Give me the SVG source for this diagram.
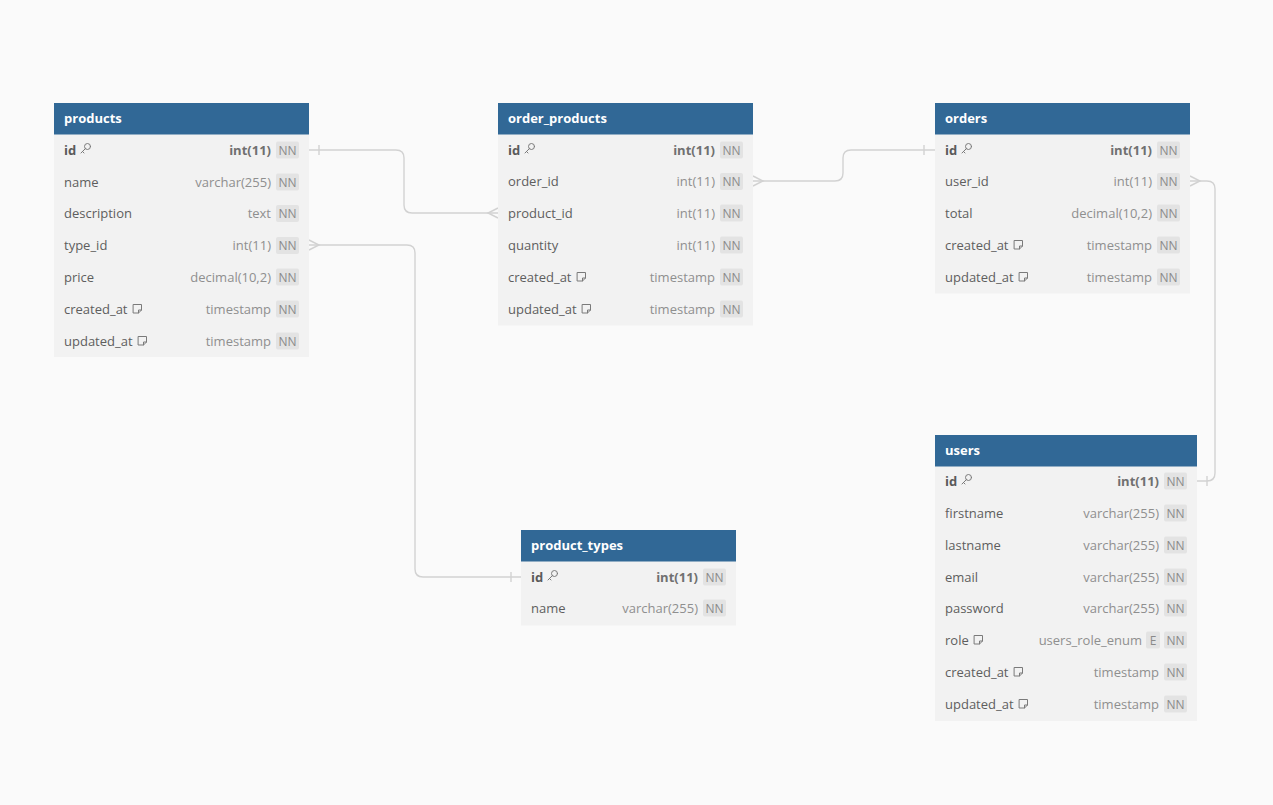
<svg xmlns="http://www.w3.org/2000/svg" width="1273" height="805" viewBox="0 0 1273 805">
<defs>
<style>
.bg{fill:#fafafa}
.hd{fill:#316896}
.bd{fill:#f2f2f2}
.ht{font-family:"Open Sans","Noto Sans",sans-serif;font-size:13px;font-weight:bold;fill:#ffffff}
.fn{font-family:"Open Sans","Noto Sans",sans-serif;font-size:13px;fill:#5e5e5e}
.pk{font-family:"Open Sans","Noto Sans",sans-serif;font-size:13px;font-weight:bold;fill:#5a5a5a}
.ty{font-family:"Open Sans","Noto Sans",sans-serif;font-size:13px;fill:#8f8f8f;text-anchor:end}
.tyb{font-family:"Open Sans","Noto Sans",sans-serif;font-size:13px;font-weight:bold;fill:#707070;text-anchor:end}
.bg2{fill:#e3e3e3}
.bt{font-family:"Open Sans","Noto Sans",sans-serif;font-size:12px;fill:#8a8a8a;text-anchor:middle}
.ic{fill:none;stroke:#7a7a7a;stroke-width:1;stroke-linejoin:round;stroke-linecap:round}
.cn{fill:none;stroke:#d2d2d2;stroke-width:1.4}
</style>
<g id="key"><circle cx="6.5" cy="-3.5" r="3" class="ic"/><path d="M4.4,-1.4 L0,3 M1.5,1.5 L3,3" class="ic"/></g>
<g id="note"><path d="M0.5,-4.5 h8 v5.5 l-3,3 h-5 z M8.5,1 h-3 v3" class="ic"/></g>
</defs>
<rect class="bg" x="0" y="0" width="1273" height="805"/>

<g id="connectors">
<path class="cn" d="M309,150 H396 Q404,150 404,158 V205 Q404,213 412,213 H498"/>
<path class="cn" d="M319,145 V155"/>
<path class="cn" d="M498,208 L488,213 L498,218"/>
<path class="cn" d="M309,245 H407 Q415,245 415,253 V569 Q415,577 423,577 H521"/>
<path class="cn" d="M309,240 L319,245 L309,250"/>
<path class="cn" d="M511,572 V582"/>
<path class="cn" d="M753,181 H835 Q843,181 843,173 V158 Q843,150 851,150 H935"/>
<path class="cn" d="M753,176 L763,181 L753,186"/>
<path class="cn" d="M924,145 V155"/>
<path class="cn" d="M1190,181 H1207 Q1215,181 1215,189 V473 Q1215,481 1207,481 H1197"/>
<path class="cn" d="M1190,176 L1200,181 L1190,186"/>
<path class="cn" d="M1207,476 V486"/>
</g>

<g id="products">
<rect class="bd" x="54" y="134" width="255" height="223"/>
<rect class="hd" x="54" y="103" width="255" height="31.5"/>
<text class="ht" x="64" y="122.5">products</text>
<text class="pk" x="64" y="154.5">id</text><use href="#key" x="81" y="150"/>
<text class="tyb" x="271" y="154.5">int(11)</text><rect class="bg2" x="276" y="141.5" width="23" height="17" rx="2"/><text class="bt" x="287.5" y="154.5">NN</text>
<text class="fn" x="64" y="186.5">name</text>
<text class="ty" x="271" y="186.5">varchar(255)</text><rect class="bg2" x="276" y="173.5" width="23" height="17" rx="2"/><text class="bt" x="287.5" y="186.5">NN</text>
<text class="fn" x="64" y="218">description</text>
<text class="ty" x="271" y="218">text</text><rect class="bg2" x="276" y="205" width="23" height="17" rx="2"/><text class="bt" x="287.5" y="218">NN</text>
<text class="fn" x="64" y="250">type_id</text>
<text class="ty" x="271" y="250">int(11)</text><rect class="bg2" x="276" y="237" width="23" height="17" rx="2"/><text class="bt" x="287.5" y="250">NN</text>
<text class="fn" x="64" y="281.5">price</text>
<text class="ty" x="271" y="281.5">decimal(10,2)</text><rect class="bg2" x="276" y="268.5" width="23" height="17" rx="2"/><text class="bt" x="287.5" y="281.5">NN</text>
<text class="fn" x="64" y="313.5">created_at</text><use href="#note" x="133" y="309"/>
<text class="ty" x="271" y="313.5">timestamp</text><rect class="bg2" x="276" y="300.5" width="23" height="17" rx="2"/><text class="bt" x="287.5" y="313.5">NN</text>
<text class="fn" x="64" y="345.5">updated_at</text><use href="#note" x="138" y="341"/>
<text class="ty" x="271" y="345.5">timestamp</text><rect class="bg2" x="276" y="332.5" width="23" height="17" rx="2"/><text class="bt" x="287.5" y="345.5">NN</text>
</g>

<g id="order_products">
<rect class="bd" x="498" y="134" width="255" height="191.5"/>
<rect class="hd" x="498" y="103" width="255" height="31.5"/>
<text class="ht" x="508" y="122.5">order_products</text>
<text class="pk" x="508" y="154.5">id</text><use href="#key" x="525" y="150"/>
<text class="tyb" x="715" y="154.5">int(11)</text><rect class="bg2" x="720" y="141.5" width="23" height="17" rx="2"/><text class="bt" x="731.5" y="154.5">NN</text>
<text class="fn" x="508" y="186">order_id</text>
<text class="ty" x="715" y="186">int(11)</text><rect class="bg2" x="720" y="173" width="23" height="17" rx="2"/><text class="bt" x="731.5" y="186">NN</text>
<text class="fn" x="508" y="217.5">product_id</text>
<text class="ty" x="715" y="217.5">int(11)</text><rect class="bg2" x="720" y="204.5" width="23" height="17" rx="2"/><text class="bt" x="731.5" y="217.5">NN</text>
<text class="fn" x="508" y="249.5">quantity</text>
<text class="ty" x="715" y="249.5">int(11)</text><rect class="bg2" x="720" y="236.5" width="23" height="17" rx="2"/><text class="bt" x="731.5" y="249.5">NN</text>
<text class="fn" x="508" y="281.5">created_at</text><use href="#note" x="577" y="277"/>
<text class="ty" x="715" y="281.5">timestamp</text><rect class="bg2" x="720" y="268.5" width="23" height="17" rx="2"/><text class="bt" x="731.5" y="281.5">NN</text>
<text class="fn" x="508" y="313.5">updated_at</text><use href="#note" x="582" y="309"/>
<text class="ty" x="715" y="313.5">timestamp</text><rect class="bg2" x="720" y="300.5" width="23" height="17" rx="2"/><text class="bt" x="731.5" y="313.5">NN</text>
</g>

<g id="orders">
<rect class="bd" x="935" y="134" width="255" height="159.5"/>
<rect class="hd" x="935" y="103" width="255" height="31.5"/>
<text class="ht" x="945" y="122.5">orders</text>
<text class="pk" x="945" y="154.5">id</text><use href="#key" x="962" y="150"/>
<text class="tyb" x="1152" y="154.5">int(11)</text><rect class="bg2" x="1157" y="141.5" width="23" height="17" rx="2"/><text class="bt" x="1168.5" y="154.5">NN</text>
<text class="fn" x="945" y="186">user_id</text>
<text class="ty" x="1152" y="186">int(11)</text><rect class="bg2" x="1157" y="173" width="23" height="17" rx="2"/><text class="bt" x="1168.5" y="186">NN</text>
<text class="fn" x="945" y="217.5">total</text>
<text class="ty" x="1152" y="217.5">decimal(10,2)</text><rect class="bg2" x="1157" y="204.5" width="23" height="17" rx="2"/><text class="bt" x="1168.5" y="217.5">NN</text>
<text class="fn" x="945" y="249.5">created_at</text><use href="#note" x="1014" y="245"/>
<text class="ty" x="1152" y="249.5">timestamp</text><rect class="bg2" x="1157" y="236.5" width="23" height="17" rx="2"/><text class="bt" x="1168.5" y="249.5">NN</text>
<text class="fn" x="945" y="281.5">updated_at</text><use href="#note" x="1019" y="277"/>
<text class="ty" x="1152" y="281.5">timestamp</text><rect class="bg2" x="1157" y="268.5" width="23" height="17" rx="2"/><text class="bt" x="1168.5" y="281.5">NN</text>
</g>

<g id="users">
<rect class="bd" x="935" y="466" width="262" height="255"/>
<rect class="hd" x="935" y="435" width="262" height="31.5"/>
<text class="ht" x="945" y="454.5">users</text>
<text class="pk" x="945" y="485.5">id</text><use href="#key" x="962" y="481"/>
<text class="tyb" x="1159" y="485.5">int(11)</text><rect class="bg2" x="1164" y="472.5" width="23" height="17" rx="2"/><text class="bt" x="1175.5" y="485.5">NN</text>
<text class="fn" x="945" y="517.5">firstname</text>
<text class="ty" x="1159" y="517.5">varchar(255)</text><rect class="bg2" x="1164" y="504.5" width="23" height="17" rx="2"/><text class="bt" x="1175.5" y="517.5">NN</text>
<text class="fn" x="945" y="549.5">lastname</text>
<text class="ty" x="1159" y="549.5">varchar(255)</text><rect class="bg2" x="1164" y="536.5" width="23" height="17" rx="2"/><text class="bt" x="1175.5" y="549.5">NN</text>
<text class="fn" x="945" y="581.5">email</text>
<text class="ty" x="1159" y="581.5">varchar(255)</text><rect class="bg2" x="1164" y="568.5" width="23" height="17" rx="2"/><text class="bt" x="1175.5" y="581.5">NN</text>
<text class="fn" x="945" y="612.5">password</text>
<text class="ty" x="1159" y="612.5">varchar(255)</text><rect class="bg2" x="1164" y="599.5" width="23" height="17" rx="2"/><text class="bt" x="1175.5" y="612.5">NN</text>
<text class="fn" x="945" y="644.5">role</text><use href="#note" x="974" y="640"/>
<text class="ty" x="1142" y="644.5">users_role_enum</text><rect class="bg2" x="1146" y="631.5" width="14" height="17" rx="2"/><text class="bt" x="1153" y="644.5">E</text><rect class="bg2" x="1164" y="631.5" width="23" height="17" rx="2"/><text class="bt" x="1175.5" y="644.5">NN</text>
<text class="fn" x="945" y="676.5">created_at</text><use href="#note" x="1014" y="672"/>
<text class="ty" x="1159" y="676.5">timestamp</text><rect class="bg2" x="1164" y="663.5" width="23" height="17" rx="2"/><text class="bt" x="1175.5" y="676.5">NN</text>
<text class="fn" x="945" y="708.5">updated_at</text><use href="#note" x="1019" y="704"/>
<text class="ty" x="1159" y="708.5">timestamp</text><rect class="bg2" x="1164" y="695.5" width="23" height="17" rx="2"/><text class="bt" x="1175.5" y="708.5">NN</text>
</g>

<g id="product_types">
<rect class="bd" x="521" y="561" width="215" height="64.5"/>
<rect class="hd" x="521" y="530" width="215" height="31.5"/>
<text class="ht" x="531" y="549.5">product_types</text>
<text class="pk" x="531" y="581.5">id</text><use href="#key" x="548" y="577"/>
<text class="tyb" x="698" y="581.5">int(11)</text><rect class="bg2" x="703" y="568.5" width="23" height="17" rx="2"/><text class="bt" x="714.5" y="581.5">NN</text>
<text class="fn" x="531" y="612.5">name</text>
<text class="ty" x="698" y="612.5">varchar(255)</text><rect class="bg2" x="703" y="599.5" width="23" height="17" rx="2"/><text class="bt" x="714.5" y="612.5">NN</text>
</g>
</svg>
